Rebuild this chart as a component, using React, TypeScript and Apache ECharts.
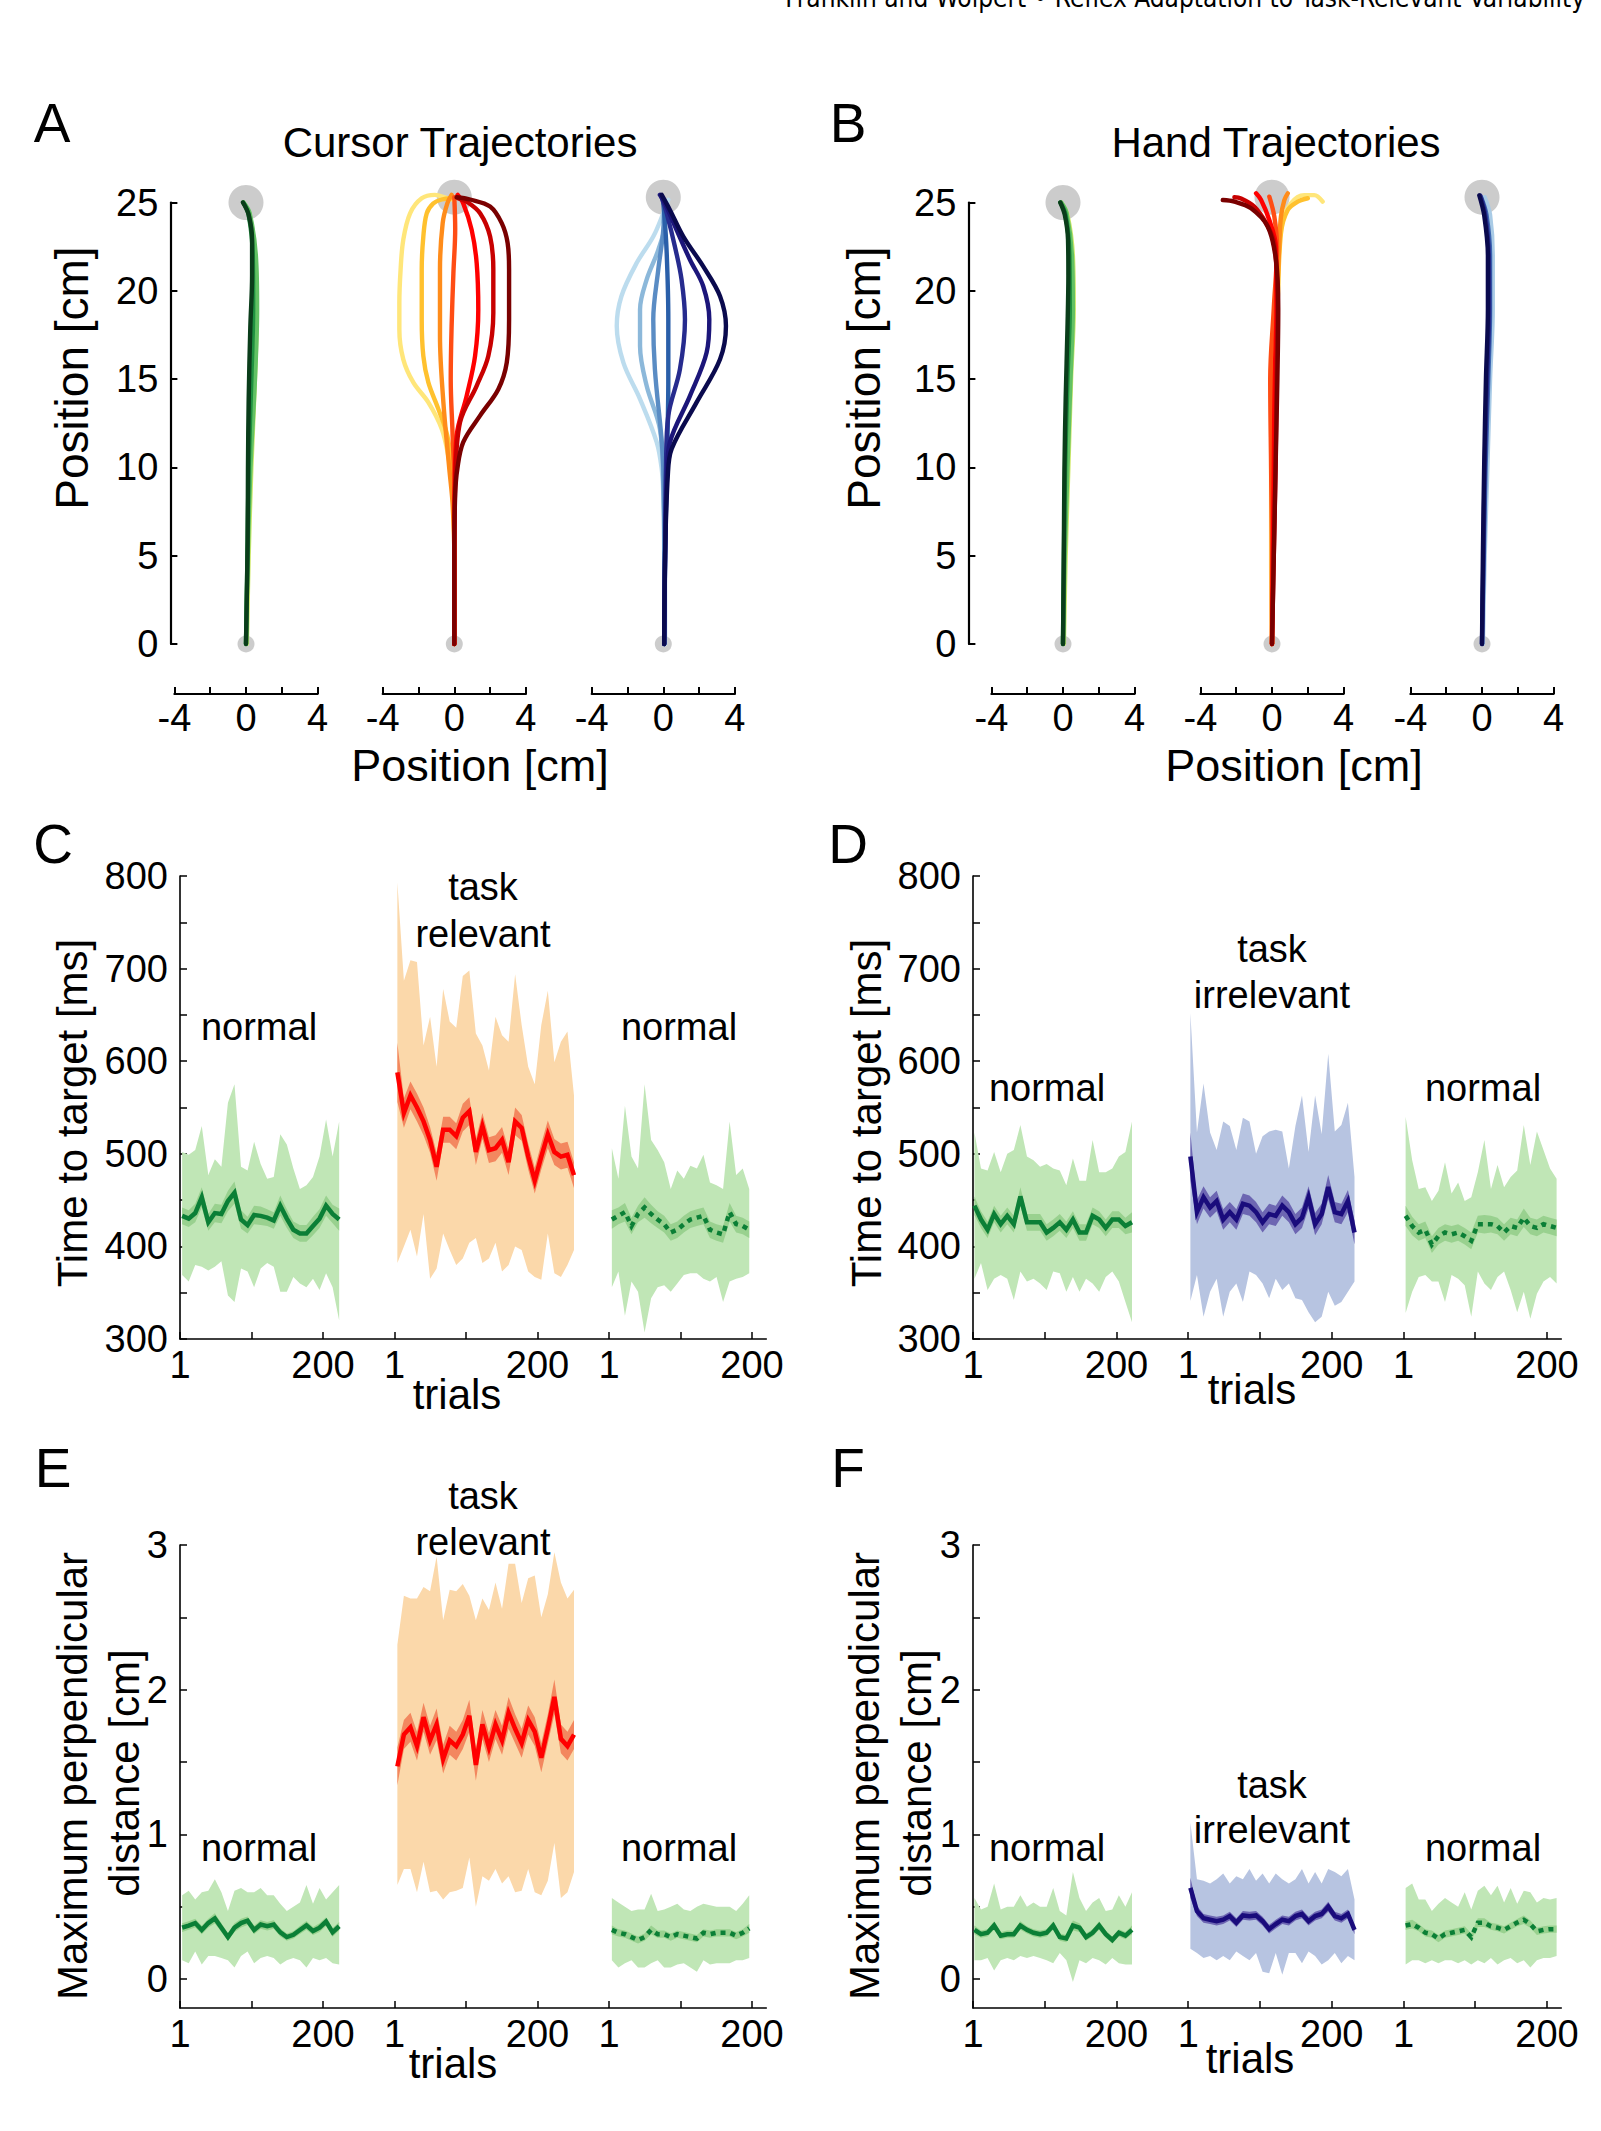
import React, { useEffect, useRef } from "react";
import * as echarts from "echarts";

type Pt = [number, number];

// ---------------- Trajectory panels (A: cursor, B: hand) ----------------
const POS_X_TICKS = [-4, -2, 0, 2, 4];
const POS_X_LABELS = [-4, 0, 4];
const POS_Y_TICKS = [0, 5, 10, 15, 20, 25];
const TARGET_Y = [25, 25.3, 25.3];

const GREEN_TRAJ_COLORS = ["#cfe96a", "#62c164", "#1f9140", "#0a3d1a"];
const RELEVANT_TRAJ_COLORS = ["#ffe67a", "#ffc12e", "#ff8c1a", "#ff4d14", "#ff0000", "#c80000", "#7a0000"];
const IRRELEVANT_TRAJ_COLORS = ["#bcdcee", "#8cb8da", "#5a8cc4", "#2a5fa9", "#262b8e", "#1c167a", "#0a0a4e"];
const HAND_IRRELEVANT_COLORS = ["#a9cbe6", "#3b64b0", "#25298a", "#0a0a4e"];

const cursorNormal: Pt[][] = [
  [[0.05, 0], [0.15, 5], [0.3, 10], [0.5, 15], [0.6, 19], [0.5, 22], [0.2, 24.3], [-0.15, 25]],
  [[0, 0], [0.1, 5], [0.25, 10], [0.5, 15], [0.62, 19], [0.55, 22], [0.2, 24.4], [-0.15, 25]],
  [[0, 0], [0.08, 5], [0.15, 10], [0.3, 15], [0.4, 19], [0.38, 22], [0.15, 24.3], [-0.15, 25]],
  [[0, 0], [0.09, 5.8], [0.11, 9.9], [0.15, 13.9], [0.24, 17.9], [0.34, 20.9], [0.34, 22.9], [0.15, 24.3], [-0.17, 25]],
];
const cursorRelevant: Pt[][] = [
  [[0, 0], [0, 5], [-0.1, 9], [-0.34, 10.67], [-0.7, 12.18], [-1.45, 13.68], [-2.29, 14.81], [-2.85, 16.12], [-3.07, 17.81], [-3.07, 19.32], [-3.0, 21.2], [-2.85, 22.89], [-2.47, 24.39], [-1.82, 25.24], [-1.08, 25.43], [-0.39, 25.24], [0, 25.15]],
  [[0, 0], [0, 5], [-0.1, 9.5], [-0.39, 11.8], [-0.89, 13.3], [-1.45, 14.81], [-1.73, 16.31], [-1.82, 18.38], [-1.82, 21.2], [-1.73, 23.07], [-1.54, 24.39], [-1.17, 24.95], [-0.7, 25.17], [-0.15, 25.24]],
  [[0, 0], [0, 5], [-0.1, 8], [-0.28, 9.92], [-0.61, 13.68], [-0.8, 17.44], [-0.8, 21.2], [-0.65, 23.83], [-0.39, 24.95], [-0.15, 25.43]],
  [[0, 0], [0, 5], [0, 9], [-0.1, 12], [-0.2, 15], [-0.15, 18], [-0.05, 21], [0.05, 23.5], [0, 25.3]],
  [[0, 0], [0, 5], [0.03, 9], [0.13, 11.8], [0.69, 14.05], [1.16, 16.31], [1.34, 18.94], [1.25, 21.57], [0.97, 23.45], [0.5, 24.95], [0.19, 25.43]],
  [[0, 0], [0, 5], [0.05, 9], [0.32, 12.55], [1.25, 14.62], [1.9, 16.31], [2.18, 18.75], [2.18, 21.2], [2.0, 23.07], [1.44, 24.39], [0.69, 25.05], [0.22, 25.24]],
  [[0, 0], [0, 5], [0.05, 8.5], [0.17, 9.92], [0.5, 11.43], [1.44, 12.93], [2.46, 14.43], [2.93, 15.93], [3.06, 18.38], [3.06, 21.2], [2.98, 22.7], [2.65, 23.83], [2.0, 24.77], [0.88, 25.17], [0.13, 25.3]],
];
const cursorIrrelevant: Pt[][] = [
  [[0.1, 0], [0.1, 5], [0, 8.5], [-0.09, 9.92], [-0.37, 11.43], [-1.3, 13.87], [-2.23, 15.93], [-2.6, 18.0], [-2.34, 19.69], [-1.49, 21.57], [-0.56, 23.07], [0, 24.39], [0.28, 25.15]],
  [[0.05, 0], [0.05, 5], [0, 9], [-0.19, 12.18], [-0.93, 14.62], [-1.3, 16.87], [-1.3, 18.94], [-0.93, 20.63], [-0.28, 22.32], [0.09, 23.83], [0.09, 24.95]],
  [[0.05, 0], [0.05, 5], [0, 10], [-0.47, 15.56], [-0.56, 18.38], [-0.28, 21.2], [0, 23.45], [0.04, 24.95]],
  [[0.05, 0], [0.1, 5], [0.2, 10], [0.28, 15], [0.28, 18.38], [0.19, 22.13], [0.04, 24.58], [-0.05, 25.3]],
  [[0.05, 0], [0.1, 5], [0.15, 10], [0.28, 12.93], [0.93, 15.56], [1.21, 18.38], [1.02, 20.63], [0.65, 22.5], [0.19, 24.39], [-0.09, 25.3]],
  [[0.05, 0], [0.1, 5], [0.2, 9.5], [0.37, 11.43], [1.49, 14.05], [2.42, 16.5], [2.57, 18.38], [2.23, 20.26], [1.49, 21.76], [0.74, 23.45], [0.09, 24.95], [-0.19, 25.43]],
  [[0.05, 0], [0.1, 5], [0.25, 9.5], [0.47, 11.06], [1.86, 13.68], [3.17, 16.12], [3.5, 18.0], [3.17, 19.69], [2.23, 21.38], [1.12, 23.07], [0.37, 24.58], [-0.09, 25.43]],
];
const handNormal: Pt[][] = [
  [[0.05, 0], [0.15, 5], [0.3, 10], [0.45, 15], [0.6, 19], [0.55, 22], [0.25, 24.3], [-0.1, 25]],
  [[0, 0], [0.1, 5], [0.25, 10], [0.42, 15], [0.55, 19], [0.5, 22], [0.2, 24.4], [-0.1, 25]],
  [[0, 0], [0.05, 5], [0.12, 10], [0.25, 15], [0.38, 19], [0.36, 22], [0.15, 24.3], [-0.15, 25]],
  [[0, 0], [0.05, 5.8], [0.08, 9.9], [0.15, 13.9], [0.25, 17.9], [0.3, 20.9], [0.28, 22.9], [0.1, 24.3], [-0.15, 25]],
];
const handRelevant: Pt[][] = [
  [[0, 0], [-0.05, 5], [-0.05, 10], [0.05, 15], [0.3, 19], [0.5, 23.64], [1.06, 24.95], [1.8, 25.42], [2.36, 25.42], [2.83, 25.05]],
  [[0, 0], [0, 5], [0, 10], [0.1, 15], [0.3, 19], [0.5, 23.26], [0.88, 24.58], [1.44, 25.05], [2.0, 25.24]],
  [[0, 0], [0, 5], [0, 10], [0.05, 15], [0.25, 19], [0.41, 22.7], [0.5, 24.2], [0.69, 25.14], [0.88, 25.52]],
  [[0, 0], [0, 5], [-0.05, 10], [-0.1, 15], [0.1, 19], [0.28, 22.5], [0.13, 24.2], [-0.15, 25.33]],
  [[0, 0], [0.05, 5], [0.1, 10], [0.15, 15], [0.25, 19], [0.22, 22.5], [-0.15, 24.01], [-0.61, 25.14], [-0.89, 25.52]],
  [[0, 0], [0.1, 5], [0.2, 10], [0.25, 15], [0.3, 19], [0.13, 22.7], [-0.33, 23.83], [-0.99, 24.77], [-1.73, 25.23], [-2.1, 25.3]],
  [[0, 0], [0.1, 5], [0.2, 10], [0.3, 15], [0.35, 19], [0.22, 21.76], [-0.24, 23.64], [-1.17, 24.67], [-2.1, 25.05], [-2.75, 25.14]],
];
const handIrrelevant: Pt[][] = [
  [[0.05, 0], [0.15, 5], [0.3, 10], [0.45, 15], [0.6, 19], [0.6, 22], [0.45, 24.3], [0.15, 25.3]],
  [[0, 0], [0.1, 5], [0.2, 10], [0.35, 15], [0.45, 19], [0.45, 22], [0.25, 24.3], [-0.05, 25.3]],
  [[0, 0], [0.08, 5], [0.15, 10], [0.28, 15], [0.4, 19], [0.38, 22], [0.18, 24.3], [-0.1, 25.4]],
  [[0, 0], [0.05, 5], [0.12, 10], [0.22, 15], [0.33, 19], [0.33, 22], [0.12, 24.3], [-0.15, 25.4]],
];

// ---------------- Trial panels (C-F) ----------------
const TRIAL_TICKS = [0, 100, 200, 300, 400, 500, 600, 700, 800];
const TRIAL_LABEL_POS = [0, 200, 300, 500, 600, 800];
const TRIAL_LABEL_TEXT = ["1", "200", "1", "200", "1", "200"];
const TIME_TICKS = [300, 350, 400, 450, 500, 550, 600, 650, 700, 750, 800];
const TIME_LABELS = [300, 400, 500, 600, 700, 800];
const DIST_TICKS = [0, 0.5, 1, 1.5, 2, 2.5, 3];
const DIST_LABELS = [0, 1, 2, 3];
const BIN_STEP = 9.15;
const BLOCK_START_LEFT = [3, 304, 604];
const BLOCK_START_RIGHT = [2, 303, 603];

// C: time to target, task relevant session
const timePreMean = [433, 430, 436, 453, 426, 436, 435, 449, 458, 429, 423, 434, 433, 431, 428, 444, 430, 418, 414, 414, 422, 430, 444, 435, 429];
const timePreUpper = [502, 499, 504, 530, 477, 494, 486, 555, 575, 486, 482, 513, 489, 473, 475, 521, 510, 484, 462, 466, 475, 497, 537, 497, 535];
const timePreLower = [369, 362, 380, 378, 374, 378, 384, 347, 340, 376, 373, 356, 376, 382, 378, 351, 351, 367, 360, 356, 365, 353, 371, 356, 320];
const timePreSe = [9, 9, 10, 11, 9, 10, 10, 11, 12, 10, 9, 10, 10, 9, 9, 11, 10, 9, 9, 9, 10, 10, 11, 10, 12];
const timeRelMean = [588, 544, 563, 550, 535, 515, 486, 526, 526, 519, 539, 546, 502, 530, 504, 506, 515, 491, 535, 528, 497, 471, 497, 521, 502, 497, 499, 477];
const timeRelUpper = [793, 687, 709, 707, 617, 648, 594, 678, 643, 636, 692, 698, 630, 617, 590, 648, 628, 621, 694, 639, 594, 575, 639, 676, 599, 621, 632, 563];
const timeRelLower = [382, 400, 418, 389, 435, 365, 376, 414, 396, 380, 387, 404, 409, 382, 387, 404, 373, 380, 400, 396, 373, 367, 364, 414, 371, 367, 380, 396];
const timeRelSe = [32, 16, 15, 15, 15, 14, 15, 14, 14, 14, 15, 15, 14, 14, 14, 14, 14, 14, 15, 14, 14, 14, 14, 15, 14, 14, 14, 14];
const timePostMean = [429, 433, 437, 422, 435, 442, 435, 429, 424, 415, 418, 424, 429, 431, 433, 418, 415, 413, 437, 424, 422, 418];
const timePostUpper = [506, 473, 552, 497, 484, 575, 515, 504, 491, 462, 482, 473, 487, 484, 499, 469, 466, 462, 535, 477, 484, 462];
const timePostLower = [356, 373, 325, 362, 351, 307, 344, 356, 358, 351, 360, 369, 371, 371, 365, 362, 367, 340, 362, 365, 367, 371];
const timePostSe = [10, 9, 10, 9, 9, 11, 10, 9, 9, 9, 9, 9, 9, 9, 9, 9, 9, 9, 10, 9, 9, 9];

// D: time to target, task irrelevant session
const timePre2Mean = [444, 429, 418, 435, 424, 433, 424, 454, 426, 426, 426, 415, 420, 426, 418, 429, 415, 415, 433, 429, 420, 429, 429, 422, 426];
const timePre2Upper = [523, 484, 482, 502, 480, 500, 504, 531, 497, 493, 486, 489, 484, 482, 466, 495, 471, 471, 515, 480, 480, 484, 497, 502, 535];
const timePre2Lower = [365, 382, 353, 365, 369, 365, 342, 373, 362, 365, 360, 353, 373, 371, 351, 367, 351, 365, 360, 351, 367, 373, 362, 340, 318];
const timePre2Se = [10, 9, 9, 9, 9, 9, 9, 10, 9, 9, 9, 9, 9, 9, 9, 9, 9, 9, 9, 9, 9, 9, 9, 9, 11];
const timeIrrMean = [497, 437, 453, 442, 449, 429, 437, 429, 446, 444, 437, 426, 435, 433, 444, 437, 424, 431, 453, 424, 435, 464, 437, 435, 449, 415];
const timeIrrUpper = [652, 523, 576, 523, 504, 535, 530, 504, 539, 535, 500, 519, 524, 526, 524, 484, 530, 563, 502, 563, 521, 608, 524, 531, 555, 475];
const timeIrrLower = [341, 369, 324, 351, 365, 324, 351, 360, 340, 373, 369, 360, 344, 365, 353, 360, 344, 342, 329, 318, 324, 351, 336, 340, 351, 362];
const timeIrrSe = [26, 13, 12, 11, 11, 11, 11, 11, 11, 11, 11, 11, 11, 11, 11, 11, 11, 11, 12, 12, 11, 13, 11, 11, 12, 13];
const timePost2Mean = [433, 422, 415, 418, 402, 411, 415, 413, 415, 411, 406, 424, 424, 424, 422, 415, 422, 420, 431, 422, 420, 424, 422, 420];
const timePost2Upper = [540, 493, 462, 464, 449, 460, 491, 457, 469, 449, 453, 480, 515, 462, 488, 464, 475, 482, 531, 488, 524, 504, 484, 473];
const timePost2Lower = [328, 351, 367, 369, 362, 362, 340, 369, 365, 358, 324, 373, 360, 353, 367, 373, 353, 329, 351, 322, 349, 362, 367, 360];
const timePost2Se = [11, 10, 9, 9, 9, 9, 9, 9, 9, 9, 9, 9, 10, 9, 9, 9, 9, 9, 10, 9, 9, 9, 9, 9];

// E: maximum perpendicular distance, task relevant session
const distPreMean = [0.355, 0.37, 0.387, 0.339, 0.387, 0.419, 0.355, 0.29, 0.355, 0.387, 0.403, 0.339, 0.377, 0.365, 0.377, 0.323, 0.29, 0.306, 0.339, 0.371, 0.332, 0.355, 0.397, 0.323, 0.365];
const distPreUpper = [0.58, 0.61, 0.55, 0.6, 0.61, 0.69, 0.6, 0.47, 0.61, 0.63, 0.6, 0.6, 0.63, 0.58, 0.58, 0.52, 0.47, 0.5, 0.53, 0.65, 0.52, 0.63, 0.55, 0.6, 0.65];
const distPreLower = [0.13, 0.11, 0.19, 0.1, 0.16, 0.16, 0.145, 0.13, 0.08, 0.16, 0.19, 0.11, 0.145, 0.16, 0.145, 0.1, 0.13, 0.145, 0.13, 0.08, 0.145, 0.13, 0.145, 0.11, 0.1];
const distPreSe = [0.03, 0.03, 0.03, 0.03, 0.03, 0.035, 0.03, 0.025, 0.03, 0.03, 0.03, 0.03, 0.03, 0.03, 0.03, 0.028, 0.025, 0.025, 0.028, 0.03, 0.028, 0.03, 0.03, 0.03, 0.03];
const distRelMean = [1.47, 1.69, 1.74, 1.61, 1.81, 1.65, 1.76, 1.52, 1.65, 1.61, 1.69, 1.82, 1.48, 1.76, 1.6, 1.76, 1.65, 1.84, 1.73, 1.63, 1.79, 1.71, 1.53, 1.73, 1.95, 1.66, 1.61, 1.69];
const distRelUpper = [2.31, 2.65, 2.63, 2.63, 2.71, 2.68, 2.92, 2.48, 2.69, 2.68, 2.73, 2.65, 2.48, 2.63, 2.55, 2.74, 2.56, 2.87, 2.87, 2.6, 2.77, 2.79, 2.5, 2.66, 2.95, 2.74, 2.63, 2.69];
const distRelLower = [0.65, 0.76, 0.76, 0.6, 0.81, 0.6, 0.61, 0.55, 0.6, 0.61, 0.63, 0.84, 0.5, 0.71, 0.68, 0.76, 0.66, 0.71, 0.6, 0.61, 0.76, 0.6, 0.58, 0.68, 0.94, 0.56, 0.6, 0.74];
const distRelSe = [0.13, 0.1, 0.1, 0.1, 0.1, 0.1, 0.11, 0.1, 0.1, 0.1, 0.1, 0.11, 0.11, 0.1, 0.1, 0.1, 0.1, 0.11, 0.1, 0.1, 0.1, 0.1, 0.1, 0.1, 0.12, 0.1, 0.1, 0.1];
const distPostMean = [0.34, 0.32, 0.31, 0.29, 0.27, 0.29, 0.34, 0.31, 0.31, 0.29, 0.31, 0.3, 0.29, 0.28, 0.32, 0.31, 0.32, 0.32, 0.32, 0.3, 0.32, 0.35];
const distPostUpper = [0.56, 0.53, 0.5, 0.47, 0.48, 0.48, 0.59, 0.47, 0.48, 0.5, 0.52, 0.48, 0.47, 0.5, 0.52, 0.51, 0.5, 0.5, 0.5, 0.47, 0.52, 0.58];
const distPostLower = [0.13, 0.08, 0.11, 0.13, 0.08, 0.08, 0.11, 0.13, 0.08, 0.08, 0.1, 0.11, 0.08, 0.05, 0.13, 0.1, 0.11, 0.11, 0.11, 0.13, 0.13, 0.145];
const distPostSe = [0.03, 0.025, 0.025, 0.025, 0.025, 0.025, 0.03, 0.025, 0.025, 0.025, 0.025, 0.025, 0.025, 0.025, 0.025, 0.025, 0.025, 0.025, 0.025, 0.025, 0.025, 0.03];

// F: maximum perpendicular distance, task irrelevant session
const distPre2Mean = [0.34, 0.31, 0.32, 0.37, 0.3, 0.31, 0.31, 0.37, 0.34, 0.32, 0.31, 0.32, 0.37, 0.29, 0.28, 0.37, 0.355, 0.29, 0.32, 0.37, 0.31, 0.27, 0.32, 0.3, 0.34];
const distPre2Upper = [0.56, 0.48, 0.5, 0.66, 0.48, 0.5, 0.5, 0.58, 0.5, 0.53, 0.5, 0.5, 0.63, 0.47, 0.44, 0.74, 0.56, 0.47, 0.53, 0.56, 0.47, 0.48, 0.58, 0.5, 0.6];
const distPre2Lower = [0.13, 0.13, 0.145, 0.06, 0.13, 0.145, 0.13, 0.16, 0.145, 0.16, 0.145, 0.13, 0.11, 0.18, 0.13, -0.02, 0.13, 0.11, 0.145, 0.13, 0.1, 0.145, 0.11, 0.1, 0.1];
const distPre2Se = [0.03, 0.025, 0.025, 0.03, 0.025, 0.025, 0.025, 0.03, 0.025, 0.025, 0.025, 0.025, 0.03, 0.025, 0.025, 0.035, 0.03, 0.025, 0.025, 0.03, 0.025, 0.025, 0.025, 0.025, 0.03];
const distIrrMean = [0.63, 0.47, 0.42, 0.41, 0.4, 0.41, 0.435, 0.39, 0.44, 0.435, 0.44, 0.4, 0.345, 0.38, 0.41, 0.4, 0.435, 0.45, 0.4, 0.435, 0.45, 0.5, 0.435, 0.42, 0.45, 0.34];
const distIrrUpper = [1.08, 0.69, 0.68, 0.66, 0.69, 0.73, 0.66, 0.71, 0.69, 0.76, 0.68, 0.73, 0.66, 0.73, 0.69, 0.66, 0.69, 0.76, 0.66, 0.74, 0.66, 0.76, 0.74, 0.71, 0.76, 0.55];
const distIrrLower = [0.21, 0.18, 0.145, 0.16, 0.13, 0.16, 0.13, 0.19, 0.16, 0.13, 0.18, 0.05, 0.04, 0.18, 0.03, 0.18, 0.18, 0.11, 0.19, 0.16, 0.1, 0.13, 0.18, 0.11, 0.16, 0.13];
const distIrrSe = [0.07, 0.035, 0.03, 0.03, 0.03, 0.03, 0.03, 0.03, 0.03, 0.03, 0.03, 0.03, 0.03, 0.03, 0.03, 0.03, 0.03, 0.03, 0.03, 0.03, 0.03, 0.035, 0.03, 0.03, 0.03, 0.03];
const distPost2Mean = [0.37, 0.38, 0.355, 0.32, 0.31, 0.28, 0.31, 0.32, 0.33, 0.34, 0.29, 0.39, 0.39, 0.365, 0.355, 0.34, 0.365, 0.39, 0.41, 0.38, 0.33, 0.34, 0.345, 0.345];
const distPost2Upper = [0.63, 0.66, 0.55, 0.55, 0.47, 0.52, 0.56, 0.53, 0.5, 0.6, 0.48, 0.61, 0.645, 0.58, 0.645, 0.53, 0.63, 0.52, 0.61, 0.6, 0.53, 0.56, 0.55, 0.56];
const distPost2Lower = [0.1, 0.13, 0.13, 0.11, 0.13, 0.11, 0.13, 0.13, 0.11, 0.13, 0.1, 0.13, 0.11, 0.145, 0.1, 0.13, 0.145, 0.11, 0.13, 0.08, 0.13, 0.145, 0.145, 0.16];
const distPost2Se = [0.03, 0.03, 0.025, 0.025, 0.025, 0.025, 0.025, 0.025, 0.025, 0.025, 0.025, 0.03, 0.03, 0.025, 0.025, 0.025, 0.025, 0.025, 0.03, 0.025, 0.025, 0.025, 0.025, 0.025];

// ---------------- Colours ----------------
const GREEN_OUTER = "#c0e6b6";
const GREEN_INNER = "#99d18f";
const GREEN_LINE = "#0b7f36";
const ORANGE_OUTER = "#fbd8aa";
const ORANGE_INNER = "#f3875f";
const RED_LINE = "#ff0000";
const BLUE_OUTER = "#b7c4e1";
const BLUE_INNER = "#6d66b2";
const NAVY_LINE = "#1a0c7c";
const TARGET_GRAY = "#bfbfbf";

const FONT_FAMILY = '"Liberation Sans", Arial, Helvetica, sans-serif';
const font = (s: number) => `${s}px ${FONT_FAMILY}`;

// ---------------- Layout ----------------
const A_ZEROS = [246, 454.3, 663.3];
const B_ZEROS = [1063, 1272, 1482];
const TRAJ_HALF = 71.6;
const TRAJ_TOP = 202.5;
const TRAJ_H = 441.5;
const TRAJ_XAXIS_OFFSET = 50;

function App() {
  const ref = useRef<HTMLDivElement>(null);

  useEffect(() => {
    if (!ref.current) return;
    const chart = echarts.init(ref.current, undefined, { renderer: "svg", width: 1601, height: 2131 });

    const grid: any[] = [];
    const xAxis: any[] = [];
    const yAxis: any[] = [];
    const series: any[] = [];
    const graphic: any[] = [];

    const labelStyle = { fontSize: 38, fontFamily: FONT_FAMILY, color: "#000" };

    // ---- trajectory subplots ----
    const addTraj = (zeroX: number, showY: boolean, yOffset: number, curves: Pt[][], colors: string[], targetY: number) => {
      const gi = grid.length;
      grid.push({ left: zeroX - TRAJ_HALF, top: TRAJ_TOP, width: TRAJ_HALF * 2, height: TRAJ_H, containLabel: false });
      xAxis.push({
        type: "value", gridIndex: gi, min: -4, max: 4, interval: 2, offset: TRAJ_XAXIS_OFFSET,
        axisLine: { show: true, onZero: false, lineStyle: { color: "#000", width: 2.2 } },
        axisTick: { show: true, inside: true, length: 7, customValues: POS_X_TICKS, lineStyle: { color: "#000", width: 2 } },
        axisLabel: { ...labelStyle, margin: 5, customValues: POS_X_LABELS, showMinLabel: true, showMaxLabel: true, formatter: (v: number) => (POS_X_LABELS.includes(v) ? String(v) : "") },
        splitLine: { show: false },
      });
      yAxis.push({
        type: "value", gridIndex: gi, min: 0, max: 25, interval: 5, show: showY, offset: yOffset,
        axisLine: { show: true, onZero: false, lineStyle: { color: "#000", width: 2.2 } },
        axisTick: { show: true, inside: true, length: 7, customValues: POS_Y_TICKS, lineStyle: { color: "#000", width: 2 } },
        axisLabel: { ...labelStyle, margin: 12, customValues: POS_Y_TICKS, showMinLabel: true, showMaxLabel: true },
        splitLine: { show: false },
      });
      series.push({
        type: "scatter", xAxisIndex: gi, yAxisIndex: gi, data: [[0, targetY]], symbolSize: 35,
        itemStyle: { color: TARGET_GRAY }, z: 1, clip: false, silent: true,
      });
      series.push({
        type: "scatter", xAxisIndex: gi, yAxisIndex: gi, data: [[0, 0]], symbolSize: 17,
        itemStyle: { color: TARGET_GRAY }, z: 1, clip: false, silent: true,
      });
      curves.forEach((c, i) => {
        series.push({
          type: "line", xAxisIndex: gi, yAxisIndex: gi, data: c, smooth: 0.35, symbol: "none",
          clip: false, silent: true, z: 2,
          lineStyle: { color: colors[i % colors.length], width: 4.4, cap: "round", join: "round" },
        });
      });
    };

    addTraj(A_ZEROS[0], true, 4, cursorNormal, GREEN_TRAJ_COLORS, TARGET_Y[0]);
    addTraj(A_ZEROS[1], false, 0, cursorRelevant, RELEVANT_TRAJ_COLORS, TARGET_Y[1]);
    addTraj(A_ZEROS[2], false, 0, cursorIrrelevant, IRRELEVANT_TRAJ_COLORS, TARGET_Y[2]);
    addTraj(B_ZEROS[0], true, 23, handNormal, GREEN_TRAJ_COLORS, TARGET_Y[0]);
    addTraj(B_ZEROS[1], false, 0, handRelevant, RELEVANT_TRAJ_COLORS, TARGET_Y[1]);
    addTraj(B_ZEROS[2], false, 0, handIrrelevant, HAND_IRRELEVANT_COLORS, TARGET_Y[2]);

    // ---- trial subplots ----
    type Block = { mean: number[]; upper: number[]; lower: number[]; se: number[]; outer: string; inner: string; line: string; dotted: boolean };
    const addTrial = (left: number, top: number, width: number, height: number, yMin: number, yMax: number,
      yTicks: number[], yLabels: number[], starts: number[], blocks: Block[]) => {
      const gi = grid.length;
      grid.push({ left, top, width, height, containLabel: false });
      xAxis.push({
        type: "value", gridIndex: gi, min: 0, max: 820, interval: 100,
        axisLine: { show: true, onZero: false, lineStyle: { color: "#000", width: 1.6 } },
        axisTick: { show: true, inside: true, length: 7, customValues: TRIAL_TICKS, lineStyle: { color: "#000", width: 1.5 } },
        axisLabel: {
          ...labelStyle, margin: 7, customValues: TRIAL_LABEL_POS, showMinLabel: true, showMaxLabel: true, hideOverlap: false,
          formatter: (v: number) => { const k = TRIAL_LABEL_POS.indexOf(v); return k >= 0 ? TRIAL_LABEL_TEXT[k] : ""; },
        },
        splitLine: { show: false },
      });
      yAxis.push({
        type: "value", gridIndex: gi, min: yMin, max: yMax,
        axisLine: { show: true, onZero: false, lineStyle: { color: "#000", width: 1.6 } },
        axisTick: { show: true, inside: true, length: 7, customValues: yTicks, lineStyle: { color: "#000", width: 1.5 } },
        axisLabel: { ...labelStyle, margin: 12, customValues: yLabels, showMinLabel: true, showMaxLabel: true, formatter: (v: number) => (yLabels.includes(v) ? String(v) : "") },
        splitLine: { show: false },
      });
      blocks.forEach((b, bi) => {
        const xs = b.mean.map((_, i) => starts[bi] + i * BIN_STEP);
        const innerUp = b.mean.map((m, i) => m + b.se[i]);
        const innerLo = b.mean.map((m, i) => m - b.se[i]);
        const band = (up: number[], lo: number[], color: string, z: number) => ({
          type: "custom", xAxisIndex: gi, yAxisIndex: gi, coordinateSystem: "cartesian2d",
          clip: false, silent: true, z, data: [[xs[0], b.mean[0]]],
          renderItem: (_p: any, api: any) => {
            const pts: number[][] = [];
            for (let i = 0; i < xs.length; i++) pts.push(api.coord([xs[i], up[i]]));
            for (let i = xs.length - 1; i >= 0; i--) pts.push(api.coord([xs[i], lo[i]]));
            return { type: "polygon", shape: { points: pts }, style: { fill: color } };
          },
        });
        series.push(band(b.upper, b.lower, b.outer, 1));
        series.push(band(innerUp, innerLo, b.inner, 2));
        series.push({
          type: "line", xAxisIndex: gi, yAxisIndex: gi, data: xs.map((x, i) => [x, b.mean[i]]),
          symbol: "none", clip: false, silent: true, z: 3,
          lineStyle: { color: b.line, width: 4.5, type: b.dotted ? [5, 5] : "solid", join: "miter" },
        });
      });
    };

    const gBlock = (mean: number[], upper: number[], lower: number[], se: number[], dotted: boolean): Block =>
      ({ mean, upper, lower, se, outer: GREEN_OUTER, inner: GREEN_INNER, line: GREEN_LINE, dotted });

    addTrial(180, 876, 586.3, 463, 300, 800, TIME_TICKS, TIME_LABELS, BLOCK_START_LEFT, [
      gBlock(timePreMean, timePreUpper, timePreLower, timePreSe, false),
      { mean: timeRelMean, upper: timeRelUpper, lower: timeRelLower, se: timeRelSe, outer: ORANGE_OUTER, inner: ORANGE_INNER, line: RED_LINE, dotted: false },
      gBlock(timePostMean, timePostUpper, timePostLower, timePostSe, true),
    ]);
    addTrial(973, 876, 588.3, 463, 300, 800, TIME_TICKS, TIME_LABELS, BLOCK_START_RIGHT, [
      gBlock(timePre2Mean, timePre2Upper, timePre2Lower, timePre2Se, false),
      { mean: timeIrrMean, upper: timeIrrUpper, lower: timeIrrLower, se: timeIrrSe, outer: BLUE_OUTER, inner: BLUE_INNER, line: NAVY_LINE, dotted: false },
      gBlock(timePost2Mean, timePost2Upper, timePost2Lower, timePost2Se, true),
    ]);
    addTrial(180, 1545, 586.3, 463, -0.2, 3, DIST_TICKS, DIST_LABELS, BLOCK_START_LEFT, [
      gBlock(distPreMean, distPreUpper, distPreLower, distPreSe, false),
      { mean: distRelMean, upper: distRelUpper, lower: distRelLower, se: distRelSe, outer: ORANGE_OUTER, inner: ORANGE_INNER, line: RED_LINE, dotted: false },
      gBlock(distPostMean, distPostUpper, distPostLower, distPostSe, true),
    ]);
    addTrial(973, 1545, 588.3, 463, -0.2, 3, DIST_TICKS, DIST_LABELS, BLOCK_START_RIGHT, [
      gBlock(distPre2Mean, distPre2Upper, distPre2Lower, distPre2Se, false),
      { mean: distIrrMean, upper: distIrrUpper, lower: distIrrLower, se: distIrrSe, outer: BLUE_OUTER, inner: BLUE_INNER, line: NAVY_LINE, dotted: false },
      gBlock(distPost2Mean, distPost2Upper, distPost2Lower, distPost2Se, true),
    ]);

    // ---- texts ----
    const txt = (text: string, x: number, y: number, size: number, opts: any = {}) => ({
      type: "text", x, y, rotation: opts.rotation || 0, z: 10, silent: true,
      style: { text, font: font(size), fill: "#000", align: opts.align || "center", verticalAlign: "middle" },
    });
    const ROT = Math.PI / 2;
    graphic.push({
      type: "text", right: 16, top: -15, z: 10, silent: true,
      style: { text: "Franklin and Wolpert \u2022 Reflex Adaptation to Task-Relevant Variability", font: `26px "Liberation Sans Narrow", "DejaVu Sans Condensed", ${FONT_FAMILY}`, fill: "#000" },
    });
    [["A", 52, 123], ["B", 848, 123], ["C", 53, 844], ["D", 848, 844], ["E", 53, 1468], ["F", 848, 1468]].forEach(
      ([t, x, y]) => graphic.push(txt(t as string, x as number, y as number, 55))
    );
    graphic.push(txt("Cursor Trajectories", 460, 142, 42));
    graphic.push(txt("Hand Trajectories", 1276, 142, 42));
    graphic.push(txt("Position [cm]", 72, 378, 46, { rotation: ROT }));
    graphic.push(txt("Position [cm]", 864, 378, 46, { rotation: ROT }));
    graphic.push(txt("Position [cm]", 480, 765, 45));
    graphic.push(txt("Position [cm]", 1294, 765, 45));
    graphic.push(txt("Time to target [ms]", 72, 1113, 42, { rotation: ROT }));
    graphic.push(txt("Time to target [ms]", 866, 1113, 42, { rotation: ROT }));
    graphic.push(txt("Maximum perpendicular", 72, 1776, 42, { rotation: ROT }));
    graphic.push(txt("distance [cm]", 124, 1773, 42, { rotation: ROT }));
    graphic.push(txt("Maximum perpendicular", 864, 1776, 42, { rotation: ROT }));
    graphic.push(txt("distance [cm]", 916, 1773, 42, { rotation: ROT }));
    graphic.push(txt("trials", 457, 1394, 42));
    graphic.push(txt("trials", 1252, 1389, 42));
    graphic.push(txt("trials", 453, 2063, 42));
    graphic.push(txt("trials", 1250, 2058, 42));
    const notes: [string, number, number][] = [
      ["normal", 259, 1027], ["task", 483, 887], ["relevant", 483, 934], ["normal", 679, 1027],
      ["normal", 1047, 1088], ["task", 1272, 949], ["irrelevant", 1272, 995], ["normal", 1483, 1088],
      ["normal", 259, 1848], ["task", 483, 1496], ["relevant", 483, 1542], ["normal", 679, 1848],
      ["normal", 1047, 1848], ["task", 1272, 1785], ["irrelevant", 1272, 1830], ["normal", 1483, 1848],
    ];
    notes.forEach(([t, x, y]) => graphic.push(txt(t, x, y, 38)));

    chart.setOption({
      animation: false,
      backgroundColor: "#ffffff",
      textStyle: { fontFamily: FONT_FAMILY },
      grid, xAxis, yAxis, series, graphic,
    });

    return () => chart.dispose();
  }, []);

  return <div ref={ref} style={{ position: "absolute", left: 0, top: 0, width: 1601, height: 2131 }} />;
}

export default App;
